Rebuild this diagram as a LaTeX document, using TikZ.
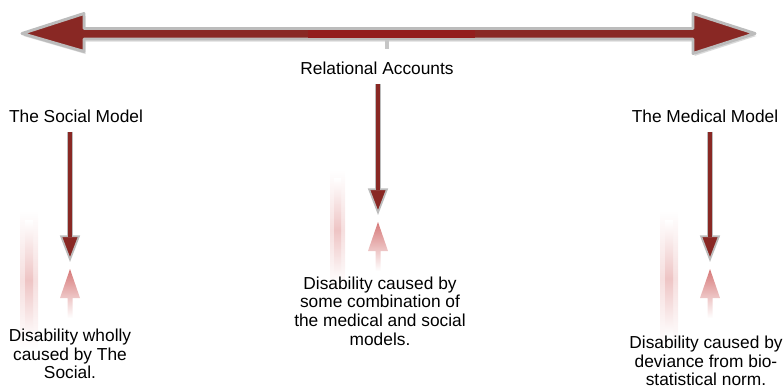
\documentclass[tikz,border=0pt]{standalone}
\usepackage{fontspec}
\setmainfont{Liberation Sans}
\usetikzlibrary{arrows.meta}

\definecolor{arrred}{RGB}{137,40,36}
\definecolor{midred}{RGB}{147,30,30}
\definecolor{rimgray}{RGB}{188,188,188}
\definecolor{ghostred}{RGB}{214,120,120}
\definecolor{barpink}{RGB}{238,196,196}

\tikzset{
  txt/.style={font=\fontsize{13}{13.9}\selectfont, align=center, inner sep=0pt},
  downarr/.style={draw=rimgray, line width=5.2pt, shorten <=7pt,
    -{Triangle[length=20pt,width=15pt,fill=arrred,line width=1.3pt]},
    postaction={draw=arrred, line width=3.2pt, -, shorten >=19pt}},
  ghost/.style={top color=ghostred, bottom color=white},
  glow/.style={top color=white, bottom color=white, middle color=barpink!55},
  glowcore/.style={top color=white, bottom color=white, middle color=barpink},
}

\begin{document}
\begin{tikzpicture}[x=0.75pt, y=-0.75pt]
    \useasboundingbox (0,0) rectangle (784,389);
    % faint glow bars
    \shade[glow] (20,210) rectangle (38,350);
    \shade[glowcore] (25,220) rectangle (33,340);
    \shade[glow] (330,170) rectangle (345,290);
    \shade[glowcore] (334,178) rectangle (341,282);
    \shade[glow] (660,210) rectangle (678,347);
    \shade[glowcore] (665,220) rectangle (673,337);
    % double arrow across the top
    \fill[rimgray!55, shift={(1.5,2.5)}] (22,33.5) -- (84,13.5) -- (84,28.5) -- (693,28.5) -- (693,13.5) -- (755,33.5) -- (693,53.5) -- (693,39) -- (84,39) -- (84,51.5) -- cycle;
    \draw[rimgray, line width=2.2pt, line join=round, fill=arrred] (22,33.5) -- (84,13.5) -- (84,28.5) -- (693,28.5) -- (693,13.5) -- (755,33.5) -- (693,53.5) -- (693,39) -- (84,39) -- (84,51.5) -- cycle;
    \fill[midred] (308,30) rectangle (475,37.5);
    \fill[gray!45] (385,40) rectangle (389,49);
    % labels
    \node[txt] (rel) at (377,68) {Relational Accounts};
    \node[txt] (soc) at (76,116) {The Social Model};
    \node[txt] (med) at (705,116) {The Medical Model};
    \node[txt] (socTxt) at (70,354) {Disability wholly\\caused by The\\Social.};
    \node[txt] (relTxt) at (380,311) {Disability caused by\\some combination of\\the medical and social\\models.};
    \node[txt] (medTxt) at (706,361) {Disability caused by\\deviance from bio-\\statistical norm.};
    % arrow tips
    \coordinate (socTip) at (70,262);
    \coordinate (relTip) at (378,215);
    \coordinate (medTip) at (710,262);
    % mirrored arrows
    \foreach \t in {socTip,relTip,medTip} {
        \shade[ghost] ([shift={(0,7)}]\t) -- ([shift={(10,36)}]\t) -- ([shift={(2.5,36)}]\t) -- ([shift={(2.5,56)}]\t) -- ([shift={(-2.5,56)}]\t) -- ([shift={(-2.5,36)}]\t) -- ([shift={(-10,36)}]\t) -- cycle;
    }
    % arrows down
    \draw[downarr] (soc.south -| socTip) -- (socTip);
    \draw[downarr] (rel.south -| relTip) -- (relTip);
    \draw[downarr] (med.south -| medTip) -- (medTip);
\end{tikzpicture}
\end{document}
